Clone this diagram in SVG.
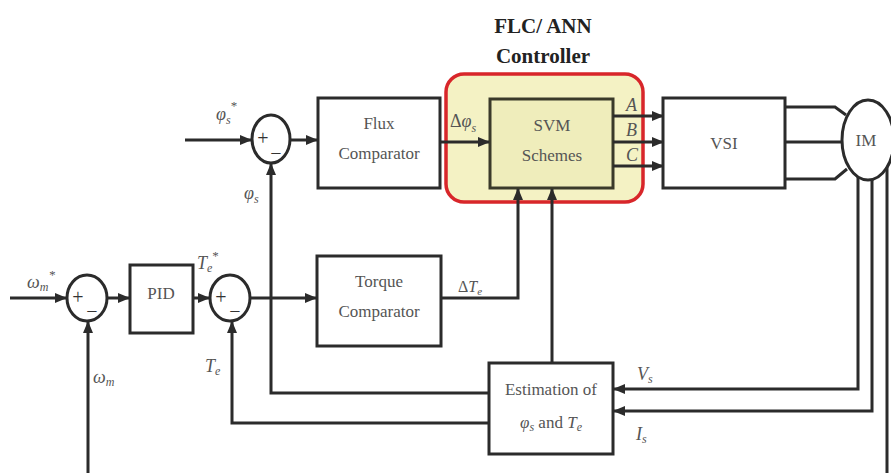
<svg xmlns="http://www.w3.org/2000/svg" width="891" height="473" viewBox="0 0 891 473">
<style>
.box{fill:#fff;stroke:#2b2b2b;stroke-width:3}
.ln{fill:none;stroke:#2b2b2b;stroke-width:3}
text{font-family:'Liberation Serif','Times New Roman','DejaVu Serif',serif}
.t{font-size:17px;fill:#555;text-anchor:middle}
.lb{font-size:18px;fill:#555;font-style:italic}
.sg{font-size:20px;fill:#333;text-anchor:middle}
.ti{font-size:21px;font-weight:bold;fill:#222;text-anchor:middle}
</style>
<defs>
<marker id="ah" markerUnits="userSpaceOnUse" markerWidth="12" markerHeight="10" refX="11" refY="5" orient="auto">
<path d="M0,0 L12,5 L0,10 Z" fill="#2b2b2b"/>
</marker>
</defs>
<rect width="891" height="473" fill="#fff"/>

<g id="title">
<text class="ti" x="543" y="33">FLC/ ANN</text>
<text class="ti" x="543" y="63">Controller</text>
</g>

<g id="controller">
<rect x="446" y="74" width="197" height="128" rx="18" fill="#f4f2c4" stroke="#d8262a" stroke-width="3.5"/>
</g>

<g id="svm">
<rect x="490" y="99" width="123" height="89" fill="#efedbb" stroke="#3a3a2a" stroke-width="3"/>
<text class="t" x="552" y="131">SVM</text>
<text class="t" x="552" y="161">Schemes</text>
</g>

<g id="flux">
<rect class="box" x="318" y="98" width="122" height="90"/>
<text class="t" x="379" y="129">Flux</text>
<text class="t" x="379" y="159">Comparator</text>
</g>

<g id="torque">
<rect class="box" x="317" y="256" width="124" height="90"/>
<text class="t" x="379" y="287">Torque</text>
<text class="t" x="379" y="317">Comparator</text>
</g>

<g id="vsi">
<rect class="box" x="663" y="98" width="122" height="90"/>
<text class="t" x="724" y="149">VSI</text>
</g>

<g id="im">
<ellipse cx="868" cy="140" rx="26" ry="40" fill="#fff" stroke="#2b2b2b" stroke-width="3"/>
<text class="t" x="866" y="146">IM</text>
</g>

<g id="pid">
<rect class="box" x="130" y="265" width="63" height="68"/>
<text class="t" x="161" y="299">PID</text>
</g>

<g id="estimation">
<rect class="box" x="489" y="363" width="124" height="91"/>
<text class="t" x="551" y="395">Estimation of</text>
<text class="t" x="551" y="428"><tspan font-style="italic">φ</tspan><tspan font-size="12" dy="3" font-style="italic">s</tspan><tspan dy="-3"> and </tspan><tspan font-style="italic">T</tspan><tspan font-size="12" dy="3" font-style="italic">e</tspan></text>
</g>

<g id="sum1">
<ellipse cx="271" cy="139" rx="19" ry="24" fill="#fff" stroke="#2b2b2b" stroke-width="3"/>
<text class="sg" x="263" y="145">+</text>
<text class="sg" x="276" y="160">−</text>
</g>

<g id="sum2">
<ellipse cx="230" cy="298" rx="20" ry="23" fill="#fff" stroke="#2b2b2b" stroke-width="3"/>
<text class="sg" x="221" y="304">+</text>
<text class="sg" x="235" y="318">−</text>
</g>

<g id="sum0">
<ellipse cx="87" cy="298" rx="20" ry="23" fill="#fff" stroke="#2b2b2b" stroke-width="3"/>
<text class="sg" x="78" y="304">+</text>
<text class="sg" x="92" y="318">−</text>
</g>

<g id="connectors">
<path class="ln" d="M185,140 H251" marker-end="url(#ah)"/>
<path class="ln" d="M290,140 H317" marker-end="url(#ah)"/>
<path class="ln" d="M440,142 H489" marker-end="url(#ah)"/>
<path class="ln" d="M613,116 H663" marker-end="url(#ah)"/>
<path class="ln" d="M613,142 H663" marker-end="url(#ah)"/>
<path class="ln" d="M613,166 H663" marker-end="url(#ah)"/>
<path class="ln" d="M785,107 H835 L846,115"/>
<path class="ln" d="M785,142 H842"/>
<path class="ln" d="M785,179 H835 L847,169"/>
<path class="ln" d="M858,177 V389 H614" marker-end="url(#ah)"/>
<path class="ln" d="M872,180 V411 H614" marker-end="url(#ah)"/>
<path class="ln" d="M887,167 V473"/>
<path class="ln" d="M552,363 V189" marker-end="url(#ah)"/>
<path class="ln" d="M441,298 H518 V189" marker-end="url(#ah)"/>
<path class="ln" d="M489,393 H271 V164" marker-end="url(#ah)"/>
<path class="ln" d="M489,423 H232 V322" marker-end="url(#ah)"/>
<path class="ln" d="M10,298 H66" marker-end="url(#ah)"/>
<path class="ln" d="M107,298 H129" marker-end="url(#ah)"/>
<path class="ln" d="M193,298 H209" marker-end="url(#ah)"/>
<path class="ln" d="M250,298 H316" marker-end="url(#ah)"/>
<path class="ln" d="M88,473 V322" marker-end="url(#ah)"/>
</g>

<g id="labels">
<text class="lb" x="216" y="120">φ<tspan font-size="12" dy="4">s</tspan><tspan font-size="13" dy="-14" font-style="normal">*</tspan></text>
<text class="lb" x="244" y="199">φ<tspan font-size="12" dy="4">s</tspan></text>
<text class="lb" x="450" y="127"><tspan font-style="normal">Δ</tspan>φ<tspan font-size="12" dy="5">s</tspan></text>
<text class="lb" x="458" y="292"><tspan font-style="normal" font-size="16">Δ</tspan><tspan font-size="16">T</tspan><tspan font-size="11" dy="3">e</tspan></text>
<text class="lb" x="197" y="269">T<tspan font-size="12" dy="3">e</tspan><tspan font-size="13" dy="-12" font-style="normal">*</tspan></text>
<text class="lb" x="205" y="372">T<tspan font-size="12" dy="3">e</tspan></text>
<text class="lb" x="27" y="288" font-style="normal" font-size="16">ω<tspan font-size="12" dy="3">m</tspan><tspan font-size="13" dy="-12">*</tspan></text>
<text class="lb" x="93" y="383" font-style="normal" font-size="16">ω<tspan font-size="12" dy="3">m</tspan></text>
<text class="lb" x="637" y="380">V<tspan font-size="12" dy="3">s</tspan></text>
<text class="lb" x="636" y="440">I<tspan font-size="12" dy="3">s</tspan></text>
<text class="lb" x="626" y="111" font-size="15">A</text>
<text class="lb" x="626" y="136" font-size="15">B</text>
<text class="lb" x="626" y="161" font-size="15">C</text>
</g>
</svg>
